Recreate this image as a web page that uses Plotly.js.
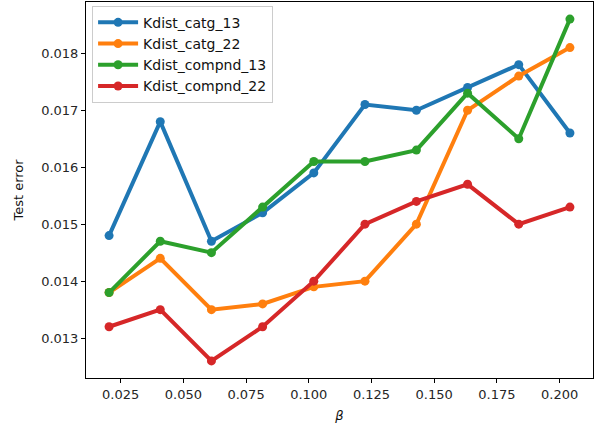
<!DOCTYPE html>
<html>
<head>
<meta charset="utf-8">
<script src="https://cdn.plot.ly/plotly-3.0.1.min.js"></script>
<style>html,body{margin:0;padding:0;background:#fff;}#chart{width:595px;height:426px;}</style>
</head>
<body>
<div id="chart"></div>
<script>
const beta = [0.0204, 0.0408, 0.0612, 0.0816, 0.1020, 0.1224, 0.1429, 0.1633, 0.1837, 0.2041];
const seriesNames = ["Kdist_catg_13", "Kdist_catg_22", "Kdist_compnd_13", "Kdist_compnd_22"];
const catg13 = [0.0148, 0.0168, 0.0147, 0.0152, 0.0159, 0.0171, 0.0170, 0.0174, 0.0178, 0.0166];
const catg22 = [0.0138, 0.0144, 0.0135, 0.0136, 0.0139, 0.0140, 0.0150, 0.0170, 0.0176, 0.0181];
const compnd13 = [0.0138, 0.0147, 0.0145, 0.0153, 0.0161, 0.0161, 0.0163, 0.0173, 0.0165, 0.0186];
const compnd22 = [0.0132, 0.0135, 0.0126, 0.0132, 0.0140, 0.0150, 0.0154, 0.0157, 0.0150, 0.0153];
const xTicks = [0.025, 0.050, 0.075, 0.100, 0.125, 0.150, 0.175, 0.200];
const yTicks = [0.013, 0.014, 0.015, 0.016, 0.017, 0.018];

const colors = ["#1f77b4", "#ff7f0e", "#2ca02c", "#d62728"];
const allY = [catg13, catg22, compnd13, compnd22];
const traces = allY.map((y, i) => ({
  x: beta, y: y, name: seriesNames[i], type: "scatter", mode: "lines+markers",
  line: {color: colors[i], width: 4}, marker: {color: colors[i], size: 9}
}));

const font = {family: "DejaVu Sans", size: 13, color: "#262626"};
const layout = {
  width: 595, height: 426,
  margin: {l: 86, r: 2, t: 2, b: 48},
  paper_bgcolor: "#fff", plot_bgcolor: "#fff",
  font: font,
  showlegend: true,
  legend: {
    x: 0.012, y: 0.99, xanchor: "left", yanchor: "top",
    bgcolor: "rgba(255,255,255,0.8)", bordercolor: "#cccccc", borderwidth: 1,
    font: {family: "DejaVu Sans", size: 14, color: "#111"},
    tracegroupgap: 0, itemwidth: 40
  },
  xaxis: {
    range: [0.0112, 0.2133], tickvals: xTicks, ticktext: xTicks.map(v => v.toFixed(3)),
    showgrid: false, zeroline: false, showline: true, linecolor: "#000", linewidth: 1,
    mirror: true, ticks: "outside", ticklen: 4, tickcolor: "#000",
    title: {text: "<i>β</i>", font: {family: "DejaVu Sans", size: 13, color: "#111"}, standoff: 10}
  },
  yaxis: {
    range: [0.0123, 0.0189], tickvals: yTicks, ticktext: yTicks.map(v => v.toFixed(3)),
    showgrid: false, zeroline: false, showline: true, linecolor: "#000", linewidth: 1,
    mirror: true, ticks: "outside", ticklen: 4, tickcolor: "#000",
    title: {text: "Test error", font: {family: "DejaVu Sans", size: 13, color: "#111"}, standoff: 14}
  }
};
Plotly.newPlot("chart", traces, layout, {displayModeBar: false, staticPlot: true});
</script>
</body>
</html>
